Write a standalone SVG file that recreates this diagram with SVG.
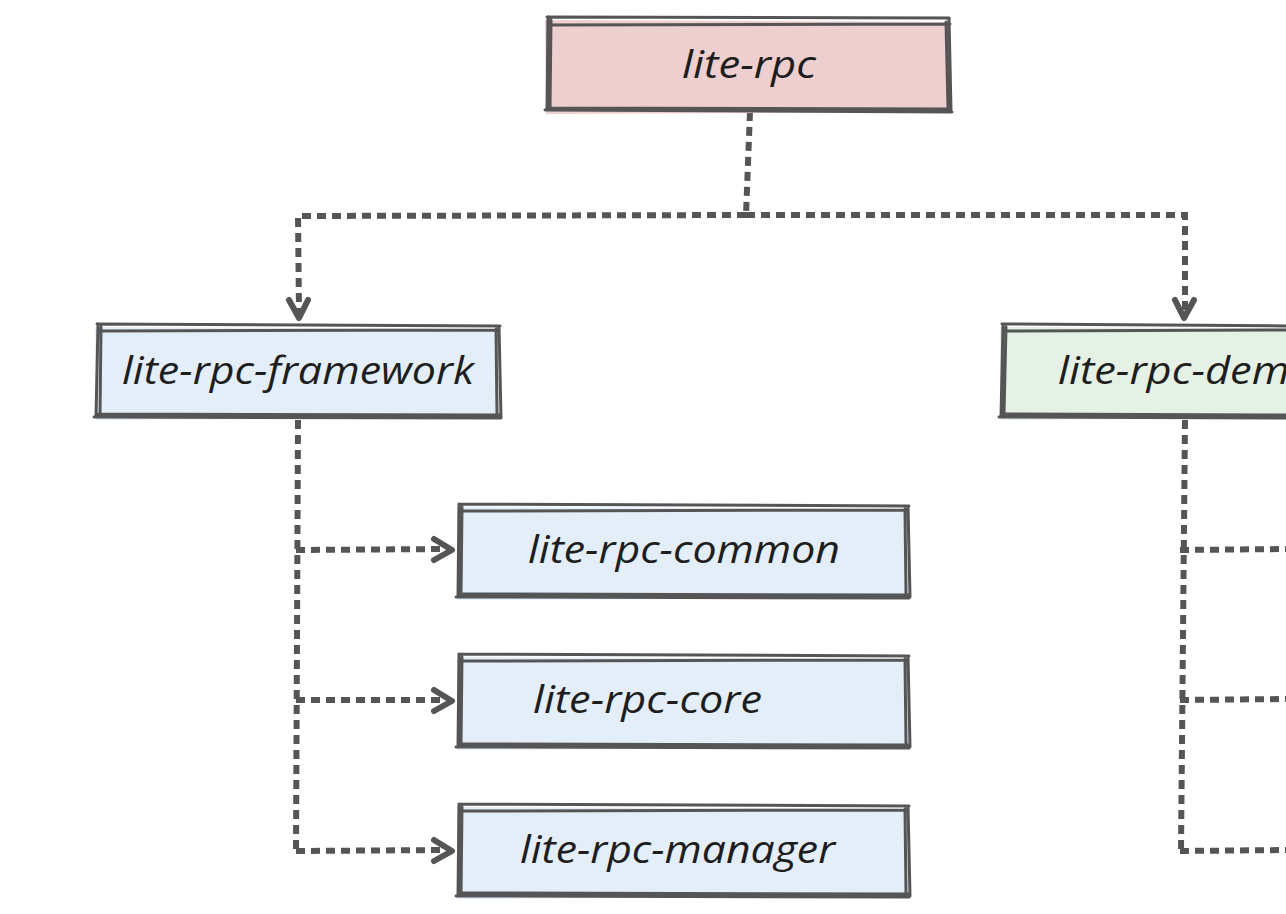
<svg xmlns="http://www.w3.org/2000/svg" width="1286" height="914" viewBox="0 0 1286 914">
<style>
.edge{fill:none;stroke:#555555;stroke-width:3;stroke-linecap:round;stroke-linejoin:round}
.con{fill:none;stroke:#555555;stroke-width:6;stroke-dasharray:9 6}
.head{fill:none;stroke:#555555;stroke-width:6;stroke-linecap:round;stroke-linejoin:round}
.lbl{font-family:"Open Sans","DejaVu Sans",sans-serif;font-style:italic;font-size:38px;fill:#1e1e1e}
.red{fill:#eecfcf}
.blue{fill:#e3eef8}
.green{fill:#e4f1e4}
</style>
<rect width="1286" height="914" fill="#ffffff"/>
<g id="connectors">
<path class="con" d="M750 112 L746 215"/>
<path class="con" d="M746 215 L298 216 L299 312"/>
<path class="con" d="M746 215 L1185 215 L1185 312"/>
<path class="head" d="M289 300 L299 318 L308 300"/>
<path class="head" d="M1175 300 L1184 318 L1194 300"/>
<path class="con" d="M298 420 L296 851"/>
<path class="con" d="M296 550 L445 549"/>
<path class="con" d="M296 700 L445 700"/>
<path class="con" d="M296 851 L445 850"/>
<path class="head" d="M434 539 L452 550 L434 560"/>
<path class="head" d="M434 690 L452 701 L434 711"/>
<path class="head" d="M434 840 L452 851 L434 861"/>
<path class="con" d="M1185 420 L1181 851"/>
<path class="con" d="M1180 550 L1290 549"/>
<path class="con" d="M1180 700 L1290 699"/>
<path class="con" d="M1180 851 L1290 850"/>
</g>
<g id="node-lite-rpc">
<path class="red" d="M545 20 L950 22 L952 112 L546 114 Z"/>
<path class="edge" d="M547 17 L949 18 M548 25 L950 24 M548 17 L547 110 M551 20 L550 108 M949 18 L951 110 M946 22 L948 109 M545 110 L952 112 M547 108 L950 109"/>
<text class="lbl" x="682" y="78" textLength="134" lengthAdjust="spacingAndGlyphs">lite-rpc</text>
</g>
<g id="node-lite-rpc-framework">
<path class="blue" d="M95 327 L499 329 L500 418 L96 420 Z"/>
<path class="edge" d="M97 324 L500 326 M98 331 L499 330 M98 324 L96 417 M101 327 L100 414 M499 326 L501 418 M496 329 L497 415 M94 417 L500 418 M97 414 L499 415"/>
<text class="lbl" x="122" y="384" textLength="352" lengthAdjust="spacingAndGlyphs">lite-rpc-framework</text>
</g>
<g id="node-lite-rpc-demo">
<path class="green" d="M1000 327 L1290 328 L1290 418 L1001 420 Z"/>
<path class="edge" d="M1002 324 L1292 326 M1003 331 L1292 330 M1003 324 L1001 417 M1006 327 L1004 414 M999 417 L1292 418 M1002 414 L1292 415"/>
<text class="lbl" x="1058" y="384" textLength="256" lengthAdjust="spacingAndGlyphs">lite-rpc-demo</text>
</g>
<g id="node-lite-rpc-common">
<path class="blue" d="M457 507 L908 509 L909 598 L457 600 Z"/>
<path class="edge" d="M459 504 L909 506 M460 511 L908 510 M459 504 L458 597 M462 507 L461 594 M908 506 L910 597 M905 509 L906 594 M456 597 L909 598 M459 594 L908 595"/>
<text class="lbl" x="528" y="563" textLength="312" lengthAdjust="spacingAndGlyphs">lite-rpc-common</text>
</g>
<g id="node-lite-rpc-core">
<path class="blue" d="M457 657 L908 659 L909 748 L457 750 Z"/>
<path class="edge" d="M459 654 L909 656 M460 661 L908 660 M459 654 L458 747 M462 657 L461 744 M908 656 L910 747 M905 659 L906 744 M456 747 L909 748 M459 744 L908 745"/>
<text class="lbl" x="533" y="713" textLength="229" lengthAdjust="spacingAndGlyphs">lite-rpc-core</text>
</g>
<g id="node-lite-rpc-manager">
<path class="blue" d="M457 807 L908 809 L909 897 L457 899 Z"/>
<path class="edge" d="M459 804 L909 806 M460 811 L908 810 M459 804 L458 896 M462 807 L461 893 M908 806 L910 896 M905 809 L906 893 M456 896 L909 897 M459 893 L908 894"/>
<text class="lbl" x="520" y="863" textLength="315" lengthAdjust="spacingAndGlyphs">lite-rpc-manager</text>
</g>
</svg>
